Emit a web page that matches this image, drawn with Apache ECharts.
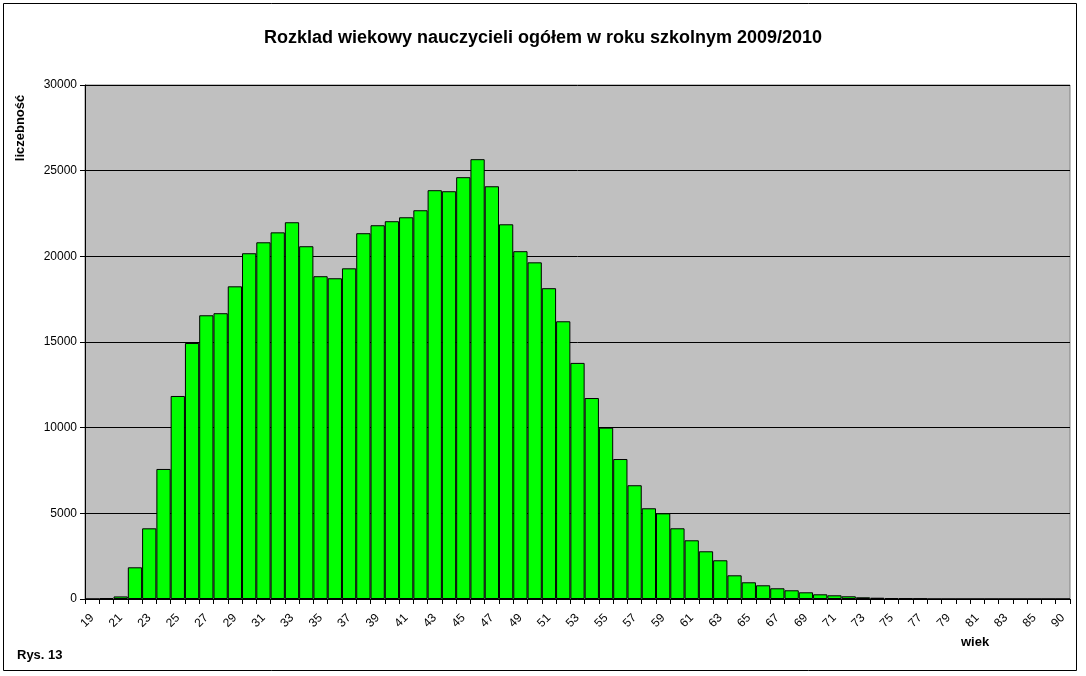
<!DOCTYPE html>
<html>
<head>
<meta charset="utf-8">
<script src="https://cdn.jsdelivr.net/npm/echarts@6/dist/echarts.min.js"></script>
<style>
html,body{margin:0;padding:0;background:#fff;}
#c{width:1086px;height:676px;}
</style>
</head>
<body>
<div id="c"></div>
<script>
// Categories: ages 19..85, then 86, then 90
const ages = [];
for (let a = 19; a <= 86; a++) ages.push(String(a));
ages.push('90');

const counts = [
  0, 50, 150, 1850, 4125, 7590, 11850, 14940, 16560, 16680,      // 19-28
  18250, 20180, 20820, 21400, 21990, 20590, 18840, 18720, 19300, 21350, // 29-38
  21815, 22050, 22280, 22690, 23860, 23800, 24620, 25670, 24090, 21870, // 39-48
  20300, 19650, 18140, 16210, 13780, 11730, 10000, 8170, 6640, 5295,    // 49-58
  5000, 4127, 3427, 2785, 2260, 1383, 975, 800, 625, 508,               // 59-68
  391, 274, 216, 158, 99, 75, 50, 40, 30, 0,                            // 69-78
  0, 0, 0, 0, 0, 0, 0, 0, 0, 0                                          // 79-86, 90
];

const yTicks = [0, 5000, 10000, 15000, 20000, 25000, 30000];

const chart = echarts.init(document.getElementById('c'), null, {renderer: 'canvas'});
const F = 'Arial, "Liberation Sans", sans-serif';
chart.setOption({
  backgroundColor: '#ffffff',
  animation: false,
  title: {
    text: 'Rozklad wiekowy nauczycieli ogółem w roku szkolnym 2009/2010',
    left: 'center', top: 24,
    textStyle: {fontFamily: F, fontSize: 18, fontWeight: 'bold', color: '#000'}
  },
  grid: {
    left: 85, right: 16, top: 85, bottom: 77,
    show: true, backgroundColor: '#C0C0C0', borderColor: '#808080', borderWidth: 1
  },
  xAxis: {
    type: 'category',
    data: ages,
    boundaryGap: true,
    axisLine: {lineStyle: {color: '#000', width: 1}},
    axisTick: {show: true, interval: 0, length: 5, lineStyle: {color: '#000'}},
    axisLabel: {interval: 1, rotate: 45, margin: 17, fontFamily: F, fontSize: 12, color: '#000'}
  },
  yAxis: {
    type: 'value',
    min: yTicks[0], max: yTicks[yTicks.length - 1], interval: 5000,
    axisLine: {show: true, lineStyle: {color: '#000', width: 1}},
    axisTick: {show: true, length: 5, lineStyle: {color: '#000'}},
    axisLabel: {margin: 8, fontFamily: F, fontSize: 12, color: '#000', formatter: v => String(v)},
    splitLine: {show: true, lineStyle: {color: '#000', width: 1}}
  },
  series: [{
    type: 'bar',
    data: counts,
    barCategoryGap: '0%',
    itemStyle: {color: '#00FF00', borderColor: '#000', borderWidth: 1}
  }],
  graphic: [
    {type: 'rect', shape: {x: 3.5, y: 3.5, width: 1073, height: 667}, style: {fill: 'none', stroke: '#000', lineWidth: 1}, z: -1},
    {type: 'text', x: 20, y: 128, rotation: Math.PI / 2, style: {text: 'liczebność', font: 'bold 13px ' + F, fill: '#000', textAlign: 'center', textVerticalAlign: 'middle'}},
    {type: 'text', left: 961, top: 636, style: {text: 'wiek', font: 'bold 13px ' + F, fill: '#000'}},
    {type: 'text', left: 17, top: 649, style: {text: 'Rys. 13', font: 'bold 13px ' + F, fill: '#000'}}
  ]
});
</script>
</body>
</html>
